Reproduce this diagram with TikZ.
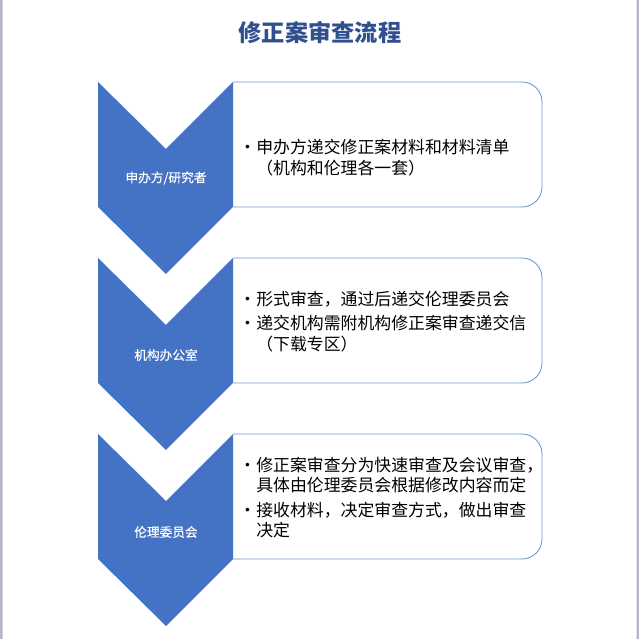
\documentclass[tikz,border=0pt]{standalone}
\usepackage{fontspec}
\setmainfont{Noto Sans CJK SC}
\newfontfamily\chevfont[FakeBold=0.5]{Noto Sans CJK SC}
\definecolor{chevblue}{HTML}{4472C4}
\definecolor{boxedge}{HTML}{6F93D6}
\definecolor{titleblue}{HTML}{2F4F8F}
\definecolor{sidegray}{HTML}{B3B7C6}
\newcommand\bul{\makebox[0.3cm][l]{\hspace*{-0.13cm}•}}
\newcommand\ind{\hspace*{0.3cm}}
\tikzset{
  chevron/.style={fill=chevblue},
  boxline/.style={draw=boxedge, fill=white, line width=0.6pt},
  chevlabel/.style={text=white, font=\chevfont\fontsize{9}{11}\selectfont},
  itemtext/.style={anchor=west, align=left, inner sep=0pt,
                   font=\fontsize{12}{14.5}\selectfont}
}
\begin{document}
\begin{tikzpicture}[x=0.025cm, y=0.025cm]
      \useasboundingbox (0,0) rectangle (639,639);
      \fill[sidegray] (0,0) rectangle (2.5,639) (636.5,0) rectangle (639,639);
      \node[text=titleblue, font=\fontsize{16.5}{18}\selectfont\bfseries] (title) at (320,606) {修正案审查流程};
      % boxes, left side hidden under the chevrons
      \filldraw[boxline] (233,557) -- (522,557) arc[start angle=90, end angle=0, radius=0.5cm]
                         -- (542,452) arc[start angle=0, end angle=-90, radius=0.5cm] -- (233,432);
      \filldraw[boxline] (233,381) -- (522,381) arc[start angle=90, end angle=0, radius=0.5cm]
                         -- (542,276) arc[start angle=0, end angle=-90, radius=0.5cm] -- (233,256);
      \filldraw[boxline] (233,205) -- (522,205) arc[start angle=90, end angle=0, radius=0.5cm]
                         -- (542,100) arc[start angle=0, end angle=-90, radius=0.5cm] -- (233,80);
      % chevrons
      \fill[chevron] (98,557) -- (166,490) -- (233,557) -- (233,432) -- (166,365) -- (98,432) -- cycle;
      \fill[chevron] (98,381) -- (166,314) -- (233,381) -- (233,256) -- (166,189) -- (98,256) -- cycle;
      \fill[chevron] (98,205) -- (166,138) -- (233,205) -- (233,80) -- (166,13) -- (98,80) -- cycle;
      \node[chevlabel] (sponsor) at (166,461) {申办方/研究者};
      \node[chevlabel] (office) at (166,284) {机构办公室};
      \node[chevlabel] (ethics) at (166,107) {伦理委员会};
      % box texts
      \node[itemtext] (sponsortxt) at (244,481.5) {\bul 申办方递交修正案材料和材料清单\\
                                                   \ind （机构和伦理各一套）};
      \node[itemtext] (officetxt) at (244,317.5) {\bul 形式审查，通过后递交伦理委员会\\[3pt]
                                                  \bul 递交机构需附机构修正案审查递交信\\
                                                  \ind （下载专区）};
      \node[itemtext] (ethicstxt) at (244,141.5) {\bul 修正案审查分为快速审查及会议审查，\\
                                                  \ind 具体由伦理委员会根据修改内容而定\\[3pt]
                                                  \bul 接收材料，决定审查方式，做出审查\\
                                                  \ind 决定};
\end{tikzpicture}
\end{document}
